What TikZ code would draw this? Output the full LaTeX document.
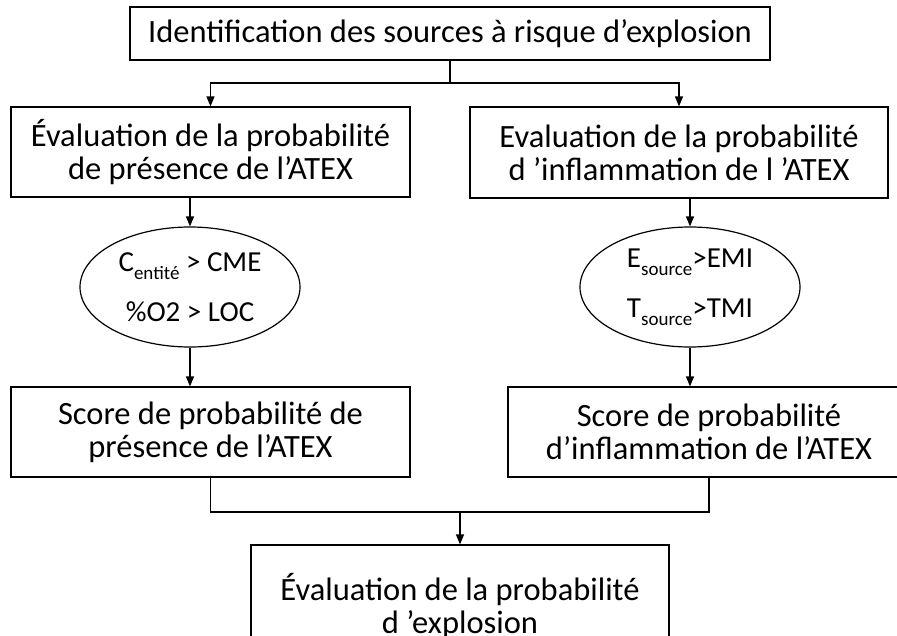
\documentclass[tikz,border=0pt]{standalone}
\usepackage{fontspec}
\setmainfont{Carlito}
\usetikzlibrary{shapes.geometric,arrows.meta}
\newcommand{\mainfs}{\fontsize{32.5}{33}\selectfont}
\newcommand{\ovalfs}{\fontsize{29}{33}\selectfont}
\newcommand{\subtxt}[1]{\raisebox{-0.28em}{\fontsize{19}{19}\selectfont #1}}
\begin{document}
\begin{tikzpicture}[x=1pt,y=-1pt,
  box/.style={draw, line width=1.2pt, align=center, inner sep=0pt, font=\mainfs},
  oval/.style={draw, ellipse, line width=1.2pt, align=center, inner sep=0pt, font=\ovalfs},
  conn/.style={line width=1.3pt},
  arr/.style={line width=1.3pt, -{Triangle[length=10pt,width=8pt]}}]
\useasboundingbox (0,0) rectangle (897,635);
\clip (0,0) rectangle (897,635);
\node[box, minimum width=640pt, minimum height=53pt] (top) at (450,33.5) {Identification des sources à risque d’explosion};
\node[box, minimum width=399pt, minimum height=90pt] (L1) at (210.5,152) {Évaluation de la probabilité\\de présence de l’ATEX};
\node[box, minimum width=418pt, minimum height=91pt] (R1) at (679,152.5) {Evaluation de la probabilité\\d ’inflammation de l ’ATEX};
\node[oval, minimum width=220pt, minimum height=120pt] (EL) at (190,287) {C\subtxt{entité} > CME\\[17pt]\%O2 > LOC};
\node[oval, minimum width=220pt, minimum height=120pt] (ER) at (690,287) {E\subtxt{source}>EMI\\[17pt]T\subtxt{source}>TMI};
\node[box, minimum width=399pt, minimum height=90pt] (L2) at (210.5,432) {Score de probabilité de\\présence de l’ATEX};
\node[box, minimum width=402pt, minimum height=90pt] (R2) at (709,432) {Score de probabilité\\d’inflammation de l’ATEX};
\node[box, minimum width=418pt, minimum height=122pt] (B) at (460,606) {Évaluation de la probabilité\\d ’explosion};
\coordinate (j1) at (450,83);
\coordinate (j2) at (460,512);
\draw[conn] (top.south) -- (j1);
\draw[arr] (j1) -| (L1.north);
\draw[arr] (j1) -| (R1.north);
\draw[arr] (L1.south -| EL.north) -- (EL.north);
\draw[arr] (R1.south -| ER.north) -- (ER.north);
\draw[arr] (EL.south) -- (EL.south |- L2.north);
\draw[arr] (ER.south) -- (ER.south |- R2.north);
\draw[conn] (L2.south) |- (j2);
\draw[conn] (R2.south) |- (j2);
\draw[arr] (j2) -- (B.north);
\end{tikzpicture}
\end{document}
